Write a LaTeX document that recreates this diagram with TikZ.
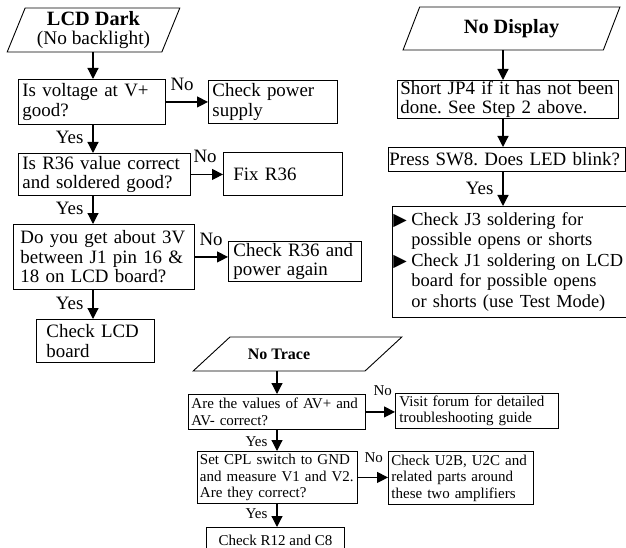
\documentclass[tikz,border=0pt]{standalone}
\usepackage{fontspec}
\setmainfont{Liberation Serif}
\newfontfamily\trifont{DejaVu Sans}
\usetikzlibrary{arrows.meta,shapes.geometric}
\frenchspacing

\newcommand{\bigtxt}{\fontsize{18.9}{19.5}\selectfont}
\newcommand{\smalltxt}{\fontsize{15}{16.5}\selectfont}
\newcommand{\bul}{\makebox[18pt][l]{\trifont\fontsize{17.5}{17.5}\selectfont ▶}}

\begin{document}
\begin{tikzpicture}[x=1pt,y=-1pt,->,>={Triangle[length=11pt,width=11pt]},line width=1.2pt,
                    box/.style={draw,line width=0.9pt,rectangle,anchor=north west,align=left,inner ysep=0pt,font=\bigtxt,
                                execute at begin node={\rightskip=0pt minus 12pt\relax}},
                    io/.style={draw,line width=0.9pt,trapezium,trapezium stretches=true,inner sep=0pt,align=center},
                    no/.style={pos=0,anchor=south west,inner sep=0pt,xshift=4pt,yshift=11pt,font=\bigtxt},
                    yes/.style={pos=0.65,anchor=south east,inner sep=0pt,xshift=-9pt,font=\bigtxt}]

  \useasboundingbox (0,0) rectangle (626,548);
  \clip (0,0) rectangle (626,548);

  % LCD Dark
  \node[io,trapezium left angle=68,trapezium right angle=112,minimum width=173pt,minimum height=44pt,
        font=\fontsize{19.3}{18.5}\selectfont] (dark) at (93.5,30) {\textbf{\fontsize{20.3}{18.5}\selectfont LCD Dark}\\(No backlight)};
  \node[box,text width=139pt,inner xsep=4pt,minimum height=45pt] (volt) at (18,79) {Is voltage at V+\\good?};
  \node[box,text width=121pt,inner xsep=4pt,minimum height=43pt] (power) at (208,80) {Check power\\supply};
  \node[box,text width=164pt,inner xsep=4pt,minimum height=42pt] (r36) at (18,153) {Is R36 value correct\\and soldered good?};
  \node[box,text width=99pt,inner xsep=10pt,minimum height=43pt] (fix) at (223,152) {Fix R36};
  \node[box,text width=167pt,inner xsep=7pt,minimum height=65pt] (pin) at (13,224) {Do you get about 3V\\between J1 pin 16 \&\\18 on LCD board?};
  \node[box,text width=123pt,inner xsep=5pt,minimum height=40pt] (again) at (228,241) {Check R36 and\\power again};
  \node[box,text width=98pt,inner xsep=10pt,minimum height=43pt] (lcd) at (36,319) {Check LCD\\board};

  \coordinate (c1) at (93,0);
  \draw (dark.south -| c1) -- (volt.north -| c1);
  \draw (volt.east) -- node[no] {No} (power.west |- volt.east);
  \draw (volt.south -| c1) -- node[yes,pos=0.7] {Yes} (r36.north -| c1);
  \draw (r36.east) -- node[no,xshift=-2pt] {No} (fix.west |- r36.east);
  \draw (r36.south -| c1) -- node[yes,pos=0.7] {Yes} (pin.north -| c1);
  \draw (pin.east) -- node[no] {No} (again.west |- pin.east);
  \draw (pin.south -| c1) -- node[yes,pos=0.7] {Yes} (lcd.north -| c1);

  % No Display
  \node[io,trapezium left angle=65,trapezium right angle=115,minimum width=217pt,minimum height=43pt,
        font=\fontsize{20.3}{20}\selectfont\bfseries] (display) at (511.5,28.5) {No Display};
  \node[box,text width=215pt,inner xsep=3pt,minimum height=38pt] (jp4) at (397,80) {Short JP4 if it has not been\\done. See Step 2 above.};
  \node[box,text width=235pt,inner xsep=1pt,minimum height=24pt] (sw8) at (388,147) {Press SW8. Does LED blink?};
  \node[box,text width=240pt,inner xsep=1pt,minimum height=111pt,font=\fontsize{18.4}{20.5}\selectfont] (checks) at (392,206)
    {\bul Check J3 soldering for\\\hspace*{18pt}possible opens or shorts\\\bul Check J1 soldering on LCD\\\hspace*{18pt}board for possible opens\\\hspace*{18pt}or shorts (use Test Mode)};

  \coordinate (c2) at (503,0);
  \draw (display.south -| c2) -- (jp4.north -| c2);
  \draw (jp4.south -| c2) -- (sw8.north -| c2);
  \draw (sw8.south -| c2) -- node[yes,pos=0.7] {Yes} (checks.north -| c2);

  % No Trace
  \node[io,trapezium left angle=57,trapezium right angle=123,minimum width=209pt,minimum height=34pt,
        font=\fontsize{16}{16}\selectfont\bfseries] (trace) at (297.5,354) {\hspace*{-37pt}No Trace};
  \node[box,text width=171pt,inner xsep=3pt,minimum height=35pt,font=\smalltxt] (av) at (188,394) {Are the values of AV+ and\\AV- correct?};
  \node[box,text width=155pt,inner xsep=4pt,minimum height=35pt,font=\smalltxt] (visit) at (395,393) {Visit forum for detailed\\troubleshooting guide};
  \node[box,text width=155pt,inner xsep=2.5pt,minimum height=52pt,font=\smalltxt] (cpl) at (197,451) {Set CPL switch to GND\\and measure V1 and V2.\\Are they correct?};
  \node[box,text width=139pt,inner xsep=3pt,minimum height=53pt,font=\smalltxt] (u2b) at (388,451) {Check U2B, U2C and\\related parts around\\these two amplifiers};
  \node[draw,line width=0.9pt,anchor=north west,minimum width=138pt,minimum height=26pt,font=\smalltxt] (r12) at (206,527) {Check R12 and C8};

  \coordinate (c3) at (277,0);
  \draw (trace.south -| c3) -- (av.north -| c3);
  \draw (av.east) -- node[no,font=\smalltxt,xshift=3pt,yshift=5pt] {No} (visit.west |- av.east);
  \draw (av.south -| c3) -- node[yes,pos=0.8,font=\smalltxt] {Yes} (cpl.north -| c3);
  \draw (cpl.east) -- node[no,font=\smalltxt,xshift=2pt,yshift=3pt] {No} (u2b.west |- cpl.east);
  \draw (cpl.south -| c3) -- node[yes,font=\smalltxt] {Yes} (r12.north -| c3);
\end{tikzpicture}
\end{document}
